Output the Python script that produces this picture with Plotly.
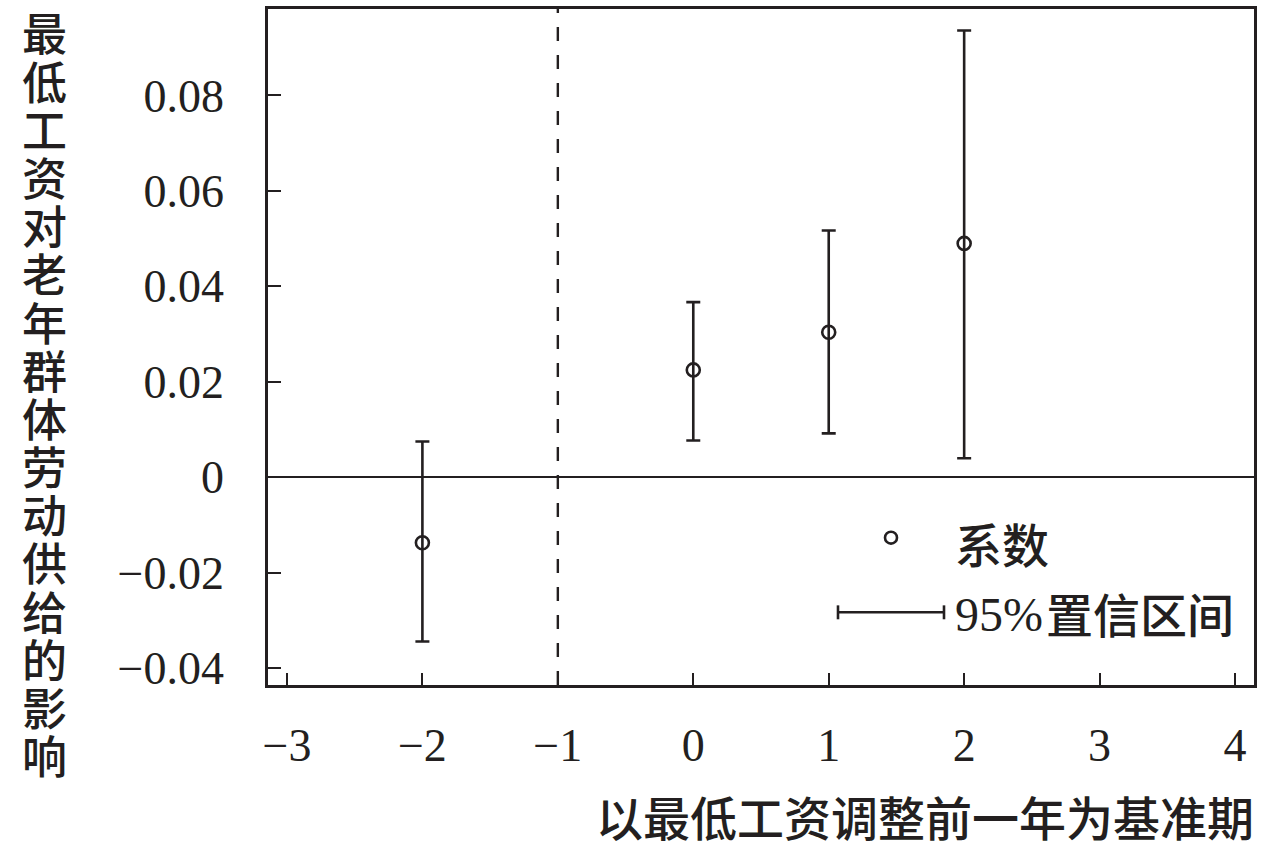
import plotly.graph_objects as go

# ---- data ----
periods = [-2, 0, 1, 2]
coef = [-0.0137, 0.0225, 0.0304, 0.0490]
ci_low = [-0.0344, 0.0077, 0.0092, 0.0040]
ci_high = [0.0075, 0.0367, 0.0517, 0.0936]
x_ticks = [-3, -2, -1, 0, 1, 2, 3, 4]
y_ticks = [-0.04, -0.02, 0, 0.02, 0.04, 0.06, 0.08]
y_tick_text = ["\u22120.04", "\u22120.02", "0", "0.02", "0.04", "0.06", "0.08"]
base_period = -1
y_title = "最低工资对老年群体劳动供给的影响"
x_title = "以最低工资调整前一年为基准期"
legend_coef = "系数"
legend_ci_num = "95%"
legend_ci_txt = "置信区间"

INK = "#231f20"
SERIF = "Liberation Serif, Times New Roman, serif"
CJK = "Noto Sans CJK SC"

W, H = 1280, 851
ML, MR, MT, MB = 268, 26, 6, 166
PW, PH = W - ML - MR, H - MT - MB


def px(xp):
    return (xp - ML) / PW


def py(yp):
    return (H - MB - yp) / PH


err_plus = [h - c for h, c in zip(ci_high, coef)]
err_minus = [c - l for c, l in zip(coef, ci_low)]

fig = go.Figure()
fig.add_trace(go.Scatter(
    x=periods, y=coef, mode="markers",
    marker=dict(symbol="circle-open", size=13, color=INK, line=dict(width=2.6, color=INK)),
    error_y=dict(type="data", symmetric=False, array=err_plus, arrayminus=err_minus,
                 color=INK, thickness=2.6, width=7),
    showlegend=False, hoverinfo="skip",
))

LW = 2.6
shapes = [
    dict(type="line", xref="x", yref="paper", x0=base_period, x1=base_period, y0=0, y1=1,
         line=dict(color=INK, width=2.4, dash="14px,14px")),
    # legend: CI line with caps
    dict(type="line", xref="paper", yref="paper", x0=px(838), x1=px(944), y0=py(612), y1=py(612),
         line=dict(color=INK, width=LW)),
    dict(type="line", xref="paper", yref="paper", x0=px(838), x1=px(838), y0=py(605), y1=py(619),
         line=dict(color=INK, width=LW)),
    dict(type="line", xref="paper", yref="paper", x0=px(944), x1=px(944), y0=py(605), y1=py(619),
         line=dict(color=INK, width=LW)),
    # legend: coefficient marker
    dict(type="circle", xref="paper", yref="paper", x0=px(885), x1=px(897), y0=py(531), y1=py(543),
         line=dict(color=INK, width=LW)),
]

annotations = []
# vertical y-axis title, one character per line
n = len(y_title)
for i, ch in enumerate(y_title):
    yc = 29 + i * (755 - 29) / (n - 1)
    annotations.append(dict(
        text=ch, xref="paper", yref="paper", x=px(44), y=py(yc), showarrow=False,
        xanchor="center", yanchor="middle",
        font=dict(family=CJK, size=45, color=INK, weight=500),
    ))
annotations.append(dict(
    text=x_title, xref="paper", yref="paper", x=px(1256), y=py(816), showarrow=False,
    xanchor="right", yanchor="middle",
    font=dict(family=CJK, size=47, color=INK, weight=500),
))
annotations.append(dict(
    text=legend_coef, xref="paper", yref="paper", x=px(953), y=py(542), showarrow=False,
    xanchor="left", yanchor="middle",
    font=dict(family=CJK, size=47, color=INK, weight=500),
))
annotations.append(dict(
    text=legend_ci_num, xref="paper", yref="paper", x=px(953), y=py(614), showarrow=False,
    xanchor="left", yanchor="middle",
    font=dict(family=SERIF, size=48, color=INK),
))
annotations.append(dict(
    text=legend_ci_txt, xref="paper", yref="paper", x=px(1044), y=py(612), showarrow=False,
    xanchor="left", yanchor="middle",
    font=dict(family=CJK, size=47, color=INK, weight=500),
))

fig.update_layout(
    width=W, height=H,
    margin=dict(l=ML, r=MR, t=MT, b=MB),
    plot_bgcolor="white", paper_bgcolor="white",
    shapes=shapes, annotations=annotations,
    font=dict(family=SERIF, color=INK),
)
fig.update_xaxes(
    range=[-3.14, 4.14], tickvals=x_ticks, ticks="inside", ticklen=12, tickwidth=2.2,
    tickcolor=INK, showline=True, linewidth=2.6, linecolor=INK, mirror=True,
    showgrid=False, zeroline=False, tickfont=dict(family=SERIF, size=46, color=INK),
    ticklabelstandoff=18,
)
fig.update_yaxes(
    range=[-0.0435, 0.0981], tickvals=y_ticks, ticktext=y_tick_text, ticks="inside",
    ticklen=13, tickwidth=2.2, tickcolor=INK, showline=True, linewidth=2.6, linecolor=INK,
    mirror=True, showgrid=False, zeroline=True, zerolinecolor=INK, zerolinewidth=2.2,
    tickfont=dict(family=SERIF, size=46, color=INK), ticklabelstandoff=32,
)

fig.write_html("out.html", config={"displayModeBar": False},
               post_script="document.body.style.margin='0';document.body.style.overflow='hidden';")
